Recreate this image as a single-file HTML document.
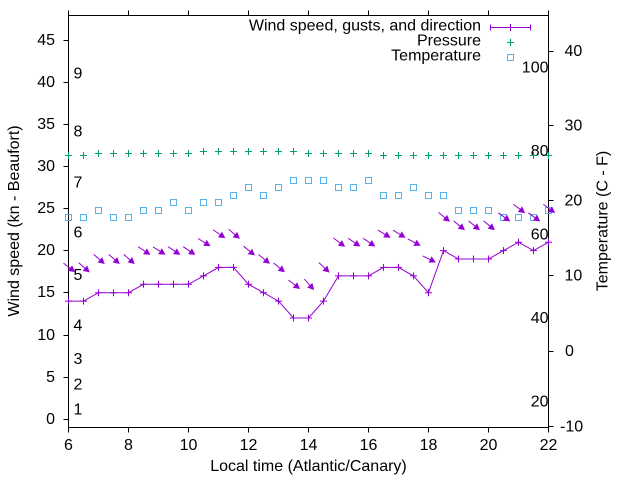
<!DOCTYPE html>
<html>
<head>
<meta charset="utf-8">
<style>
  html,body{margin:0;padding:0;background:#fff;}
  svg{display:block;}
  text{font-family:"Liberation Sans",Arial,sans-serif;font-size:16px;fill:#000;}
</style>
</head>
<body>
<svg width="640" height="480" viewBox="0 0 640 480" xmlns="http://www.w3.org/2000/svg">
  <defs>
    <path id="c" d="M-3.5,0h7M0,-3.5v7" stroke="#9400d3" stroke-width="1" fill="none"/>
    <path id="p" d="M-3.5,0h7M0,-3.5v7" stroke="#009e73" stroke-width="1" fill="none"/>
    <rect id="s" x="-3" y="-3" width="6" height="6" stroke="#56b4e9" stroke-width="1" fill="none"/>
    <g id="ar">
      <line x1="-7" y1="0" x2="3" y2="0" stroke="#9400d3" stroke-width="1"/>
      <polygon points="7,0 1.5,-3 1.5,3" fill="#9400d3" stroke="#9400d3" stroke-width="0.6"/>
    </g>
  </defs>

  <!-- frame -->
  <g stroke="#000" stroke-width="1" fill="none" shape-rendering="crispEdges">
    <rect x="68.5" y="15.5" width="480" height="412"/>
    <!-- left ticks -->
    <path d="M63.5,419.5h5M63.5,377.5h5M63.5,335.5h5M63.5,292.5h5M63.5,250.5h5M63.5,208.5h5M63.5,166.5h5M63.5,124.5h5M63.5,82.5h5M63.5,40.5h5"/>
    <!-- right ticks -->
    <path d="M548.5,51.5h5M548.5,125.5h5M548.5,200.5h5M548.5,275.5h5M548.5,351.5h5M548.5,426.5h5"/>
    <!-- bottom ticks -->
    <path d="M68.5,427.5v5M128.5,427.5v5M188.5,427.5v5M248.5,427.5v5M308.5,427.5v5M368.5,427.5v5M428.5,427.5v5M488.5,427.5v5M548.5,427.5v5"/>
    <!-- top ticks -->
    <path d="M68.5,10.5v5M128.5,10.5v5M188.5,10.5v5M248.5,10.5v5M308.5,10.5v5M368.5,10.5v5M428.5,10.5v5M488.5,10.5v5M548.5,10.5v5"/>
  </g>

  <!-- left tick labels -->
  <g text-anchor="end">
    <text x="55" y="424">0</text>
    <text x="55" y="382">5</text>
    <text x="55" y="340">10</text>
    <text x="55" y="297">15</text>
    <text x="55" y="255">20</text>
    <text x="55" y="213">25</text>
    <text x="55" y="171">30</text>
    <text x="55" y="129">35</text>
    <text x="55" y="87">40</text>
    <text x="55" y="45">45</text>
  </g>

  <!-- right tick labels -->
  <text x="564.5" y="56">40</text>
  <text x="564.5" y="130.5">30</text>
  <text x="564.5" y="205.5">20</text>
  <text x="564.5" y="280.5">10</text>
  <text x="565" y="356">0</text>
  <text x="560" y="431.5">-10</text>

  <!-- bottom tick labels -->
  <g text-anchor="middle">
    <text x="68.5" y="450">6</text>
    <text x="128.5" y="450">8</text>
    <text x="188.5" y="450">10</text>
    <text x="248.5" y="450">12</text>
    <text x="308.5" y="450">14</text>
    <text x="368.5" y="450">16</text>
    <text x="428.5" y="450">18</text>
    <text x="488.5" y="450">20</text>
    <text x="548.5" y="450">22</text>
  </g>

  <!-- axis labels -->
  <text x="308.5" y="471" text-anchor="middle">Local time (Atlantic/Canary)</text>
  <text transform="translate(19,221) rotate(-90)" text-anchor="middle">Wind speed (kn - Beaufort)</text>
  <text transform="translate(607.5,221) rotate(-90)" text-anchor="middle">Temperature (C - F)</text>

  <!-- Beaufort labels -->
  <g>
    <text x="73.5" y="414.5">1</text>
    <text x="73.5" y="389.3">2</text>
    <text x="73.5" y="364">3</text>
    <text x="73.5" y="330.5">4</text>
    <text x="73.5" y="280">5</text>
    <text x="73.5" y="237.5">6</text>
    <text x="73.5" y="187.3">7</text>
    <text x="73.5" y="136.7">8</text>
    <text x="73.5" y="78.3">9</text>
  </g>

  <!-- Fahrenheit labels -->
  <g text-anchor="end">
    <text x="548.5" y="72.5">100</text>
    <text x="548.5" y="156">80</text>
    <text x="548.5" y="239.5">60</text>
    <text x="548.5" y="323">40</text>
    <text x="548.5" y="406.5">20</text>
  </g>

  <!-- Pressure points -->
  <g>
    <use href="#p" x="68.5" y="155.5"/>
    <use href="#p" x="83.5" y="155.5"/>
    <use href="#p" x="98.5" y="153.5"/>
    <use href="#p" x="113.5" y="153.5"/>
    <use href="#p" x="128.5" y="153.5"/>
    <use href="#p" x="143.5" y="153.5"/>
    <use href="#p" x="158.5" y="153.5"/>
    <use href="#p" x="173.5" y="153.5"/>
    <use href="#p" x="188.5" y="153.5"/>
    <use href="#p" x="203.5" y="151.5"/>
    <use href="#p" x="218.5" y="151.5"/>
    <use href="#p" x="233.5" y="151.5"/>
    <use href="#p" x="248.5" y="151.5"/>
    <use href="#p" x="263.5" y="151.5"/>
    <use href="#p" x="278.5" y="151.5"/>
    <use href="#p" x="293.5" y="151.5"/>
    <use href="#p" x="308.5" y="153.5"/>
    <use href="#p" x="323.5" y="153.5"/>
    <use href="#p" x="338.5" y="153.5"/>
    <use href="#p" x="353.5" y="153.5"/>
    <use href="#p" x="368.5" y="153.5"/>
    <use href="#p" x="383.5" y="155.5"/>
    <use href="#p" x="398.5" y="155.5"/>
    <use href="#p" x="413.5" y="155.5"/>
    <use href="#p" x="428.5" y="155.5"/>
    <use href="#p" x="443.5" y="155.5"/>
    <use href="#p" x="458.5" y="155.5"/>
    <use href="#p" x="473.5" y="155.5"/>
    <use href="#p" x="488.5" y="155.5"/>
    <use href="#p" x="503.5" y="155.5"/>
    <use href="#p" x="518.5" y="155.5"/>
    <use href="#p" x="533.5" y="155.5"/>
    <use href="#p" x="548.5" y="155.5"/>
  </g>

  <!-- Temperature squares -->
  <g>
    <use href="#s" x="68.5" y="217.5"/>
    <use href="#s" x="83.5" y="217.5"/>
    <use href="#s" x="98.5" y="210.5"/>
    <use href="#s" x="113.5" y="217.5"/>
    <use href="#s" x="128.5" y="217.5"/>
    <use href="#s" x="143.5" y="210.5"/>
    <use href="#s" x="158.5" y="210.5"/>
    <use href="#s" x="173.5" y="202.5"/>
    <use href="#s" x="188.5" y="210.5"/>
    <use href="#s" x="203.5" y="202.5"/>
    <use href="#s" x="218.5" y="202.5"/>
    <use href="#s" x="233.5" y="195.5"/>
    <use href="#s" x="248.5" y="187.5"/>
    <use href="#s" x="263.5" y="195.5"/>
    <use href="#s" x="278.5" y="187.5"/>
    <use href="#s" x="293.5" y="180.5"/>
    <use href="#s" x="308.5" y="180.5"/>
    <use href="#s" x="323.5" y="180.5"/>
    <use href="#s" x="338.5" y="187.5"/>
    <use href="#s" x="353.5" y="187.5"/>
    <use href="#s" x="368.5" y="180.5"/>
    <use href="#s" x="383.5" y="195.5"/>
    <use href="#s" x="398.5" y="195.5"/>
    <use href="#s" x="413.5" y="187.5"/>
    <use href="#s" x="428.5" y="195.5"/>
    <use href="#s" x="443.5" y="195.5"/>
    <use href="#s" x="458.5" y="210.5"/>
    <use href="#s" x="473.5" y="210.5"/>
    <use href="#s" x="488.5" y="210.5"/>
    <use href="#s" x="503.5" y="217.5"/>
    <use href="#s" x="518.5" y="217.5"/>
    <use href="#s" x="533.5" y="217.5"/>
    <use href="#s" x="548.5" y="210.5"/>
  </g>

  <!-- Wind line -->
  <polyline fill="none" stroke="#9400d3" stroke-width="1" points="68.5,301.1 83.5,301.1 98.5,292.7 113.5,292.7 128.5,292.7 143.5,284.3 158.5,284.3 173.5,284.3 188.5,284.3 203.5,275.9 218.5,267.4 233.5,267.4 248.5,284.3 263.5,292.7 278.5,301.1 293.5,318 308.5,318 323.5,301.1 338.5,275.9 353.5,275.9 368.5,275.9 383.5,267.4 398.5,267.4 413.5,275.9 428.5,292.7 443.5,250.6 458.5,259 473.5,259 488.5,259 503.5,250.6 518.5,242.2 533.5,250.6 548.5,242.2"/>
  <g>
    <use href="#c" x="68.5" y="301.1"/>
    <use href="#c" x="83.5" y="301.1"/>
    <use href="#c" x="98.5" y="292.7"/>
    <use href="#c" x="113.5" y="292.7"/>
    <use href="#c" x="128.5" y="292.7"/>
    <use href="#c" x="143.5" y="284.3"/>
    <use href="#c" x="158.5" y="284.3"/>
    <use href="#c" x="173.5" y="284.3"/>
    <use href="#c" x="188.5" y="284.3"/>
    <use href="#c" x="203.5" y="275.9"/>
    <use href="#c" x="218.5" y="267.4"/>
    <use href="#c" x="233.5" y="267.4"/>
    <use href="#c" x="248.5" y="284.3"/>
    <use href="#c" x="263.5" y="292.7"/>
    <use href="#c" x="278.5" y="301.1"/>
    <use href="#c" x="293.5" y="318"/>
    <use href="#c" x="308.5" y="318"/>
    <use href="#c" x="323.5" y="301.1"/>
    <use href="#c" x="338.5" y="275.9"/>
    <use href="#c" x="353.5" y="275.9"/>
    <use href="#c" x="368.5" y="275.9"/>
    <use href="#c" x="383.5" y="267.4"/>
    <use href="#c" x="398.5" y="267.4"/>
    <use href="#c" x="413.5" y="275.9"/>
    <use href="#c" x="428.5" y="292.7"/>
    <use href="#c" x="443.5" y="250.6"/>
    <use href="#c" x="458.5" y="259"/>
    <use href="#c" x="473.5" y="259"/>
    <use href="#c" x="488.5" y="259"/>
    <use href="#c" x="503.5" y="250.6"/>
    <use href="#c" x="518.5" y="242.2"/>
    <use href="#c" x="533.5" y="250.6"/>
    <use href="#c" x="548.5" y="242.2"/>
  </g>

  <!-- Direction arrows -->
  <g>
    <use href="#ar" transform="translate(69,267.4) rotate(38)"/>
    <use href="#ar" transform="translate(84,267.4) rotate(41)"/>
    <use href="#ar" transform="translate(99,259) rotate(41)"/>
    <use href="#ar" transform="translate(114,259) rotate(41)"/>
    <use href="#ar" transform="translate(129,259) rotate(41)"/>
    <use href="#ar" transform="translate(144,250.6) rotate(33)"/>
    <use href="#ar" transform="translate(159,250.6) rotate(32)"/>
    <use href="#ar" transform="translate(174,250.6) rotate(34)"/>
    <use href="#ar" transform="translate(189,250.6) rotate(34)"/>
    <use href="#ar" transform="translate(204,242.2) rotate(32)"/>
    <use href="#ar" transform="translate(219,233.8) rotate(34)"/>
    <use href="#ar" transform="translate(234,233.8) rotate(40)"/>
    <use href="#ar" transform="translate(249,250.6) rotate(39)"/>
    <use href="#ar" transform="translate(264,259) rotate(39)"/>
    <use href="#ar" transform="translate(279,267.4) rotate(39)"/>
    <use href="#ar" transform="translate(294,284.3) rotate(38)"/>
    <use href="#ar" transform="translate(309,284.3) rotate(48)"/>
    <use href="#ar" transform="translate(324,267.4) rotate(43)"/>
    <use href="#ar" transform="translate(339,242.2) rotate(37)"/>
    <use href="#ar" transform="translate(354,242.2) rotate(34)"/>
    <use href="#ar" transform="translate(369,242.2) rotate(34)"/>
    <use href="#ar" transform="translate(384,233.8) rotate(31)"/>
    <use href="#ar" transform="translate(399,233.8) rotate(31)"/>
    <use href="#ar" transform="translate(414,242.2) rotate(28)"/>
    <use href="#ar" transform="translate(429,259) rotate(26)"/>
    <use href="#ar" transform="translate(444,216.9) rotate(39)"/>
    <use href="#ar" transform="translate(459,225.3) rotate(39)"/>
    <use href="#ar" transform="translate(474,225.3) rotate(39)"/>
    <use href="#ar" transform="translate(489,225.3) rotate(39)"/>
    <use href="#ar" transform="translate(504,216.9) rotate(36)"/>
    <use href="#ar" transform="translate(519,208.5) rotate(37)"/>
    <use href="#ar" transform="translate(534,216.9) rotate(36)"/>
    <use href="#ar" transform="translate(549,208.5) rotate(36)"/>
  </g>

  <!-- Legend -->
  <g text-anchor="end">
    <text x="481" y="30.7">Wind speed, gusts, and direction</text>
    <text x="481" y="45.7">Pressure</text>
    <text x="481" y="60.7">Temperature</text>
  </g>
  <g stroke="#9400d3" stroke-width="1" fill="none">
    <path d="M490.5,27.5H530.5M490.5,24.5v6M530.5,24.5v6M510.5,24v7"/>
  </g>
  <use href="#p" x="510.5" y="42.5"/>
  <use href="#s" x="510.5" y="57.5"/>
</svg>
</body>
</html>
